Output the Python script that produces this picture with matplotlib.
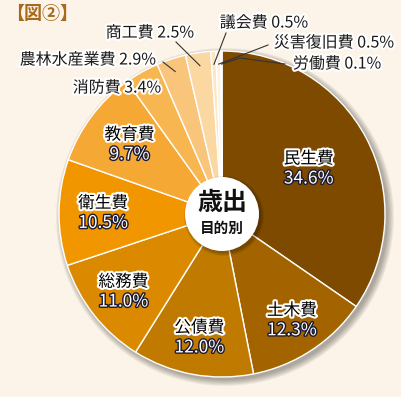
import numpy as np
import matplotlib.pyplot as plt
import matplotlib.patheffects as pe
from matplotlib.patches import Circle

plt.rcParams['font.family'] = ['Noto Sans CJK JP', 'DejaVu Sans']

names = ['民生費', '土木費', '公債費', '総務費', '衛生費', '教育費',
         '消防費', '農林水産業費', '商工費', '議会費', '災害復旧費', '労働費']
shares = [34.6, 12.3, 12.0, 11.0, 10.5, 9.7, 3.4, 2.9, 2.5, 0.5, 0.5, 0.1]
colors = ['#7e4a00', '#a36400', '#c07a00', '#db8a00', '#f29600', '#f5a834',
          '#f7b650', '#f9c57a', '#fbd7a2', '#fde6c6', '#fef1e0', '#ffffff']

# inside labels: radial position as fraction of radius
inner_r = [0.6, 0.78, 0.77, 0.77, 0.73, 0.71]
# outside labels: text centre (pixels), leader start (None = no line)
outer_pos = {
    '消防費': ((117, 88), None),
    '農林水産業費': ((88, 60), (163, 62)),
    '商工費': ((150, 33), (176, 42)),
    '議会費': ((264, 23), (226, 33)),
    '災害復旧費': ((334, 43), (268, 45)),
    '労働費': ((337, 64), (285, 64)),
}

bg = '#fcf4e8'
cx, cy, R = 222, 214, 163

fig = plt.figure(figsize=(4.01, 3.97), dpi=100)
fig.patch.set_facecolor(bg)
ax = fig.add_axes([0, 0, 1, 1])

# soft shadow
for k in range(7):
    ax.add_patch(Circle((cx + 3, cy + 3), R + 6 - k, color='#000000',
                        alpha=0.05, lw=0, zorder=0))

wedges, _ = ax.pie(shares, colors=colors, startangle=-90, counterclock=True,
                   center=(cx, cy), radius=R, frame=True,
                   wedgeprops=dict(edgecolor='white', linewidth=1))
ax.set_xlim(0, 401)
ax.set_ylim(397, 0)
ax.set_aspect('equal')
ax.axis('off')

name_fx = [pe.withStroke(linewidth=3, foreground='white')]
pct_fx = [pe.withStroke(linewidth=2, foreground='#1b1b33')]

for i, w in enumerate(wedges):
    mid = np.deg2rad((w.theta1 + w.theta2) / 2)
    label = names[i]
    pct = f'{shares[i]:.1f}%'
    if i < len(inner_r):
        x = cx + R * inner_r[i] * np.cos(mid)
        y = cy + R * inner_r[i] * np.sin(mid)
        ax.text(x, y - 9.5, label, ha='center', va='center', fontsize=12,
                color='black', path_effects=name_fx, zorder=5)
        ax.text(x, y + 10, pct, ha='center', va='center', fontsize=12.5,
                color='white', path_effects=pct_fx, zorder=5)
    else:
        (tx, ty), start = outer_pos[label]
        ax.text(tx, ty, f'{label} {pct}', ha='center', va='center',
                fontsize=11.5, color='#1a1a1a', path_effects=name_fx, zorder=6)
        if start is not None:
            ex = cx + R * 0.92 * np.cos(mid)
            ey = cy + R * 0.92 * np.sin(mid)
            if label == '労働費':
                xs, ys = [start[0], 240, ex], [start[1], 58, ey]
            else:
                xs, ys = [start[0], ex], [start[1], ey]
            ax.plot(xs, ys, color='#333333', lw=0.8, zorder=4)

# centre disc
for k in range(4):
    ax.add_patch(Circle((cx + 2, cy + 2), 40 - k, color='#000000',
                        alpha=0.08, lw=0, zorder=6))
ax.add_patch(Circle((cx, cy), 37, color='white', lw=0, zorder=7))
ax.text(cx, cy - 11, '歳出', ha='center', va='center', fontsize=18,
        fontweight='bold', color='#111111', zorder=8)
ax.text(cx, cy + 14, '目的別', ha='center', va='center', fontsize=10.5,
        fontweight='bold', color='#111111', zorder=8)

ax.text(6, 13, '【図②】', ha='left', va='center', fontsize=13,
        fontweight='bold', color='#a8691c')

fig.savefig('out.png', dpi=100, facecolor=bg)
